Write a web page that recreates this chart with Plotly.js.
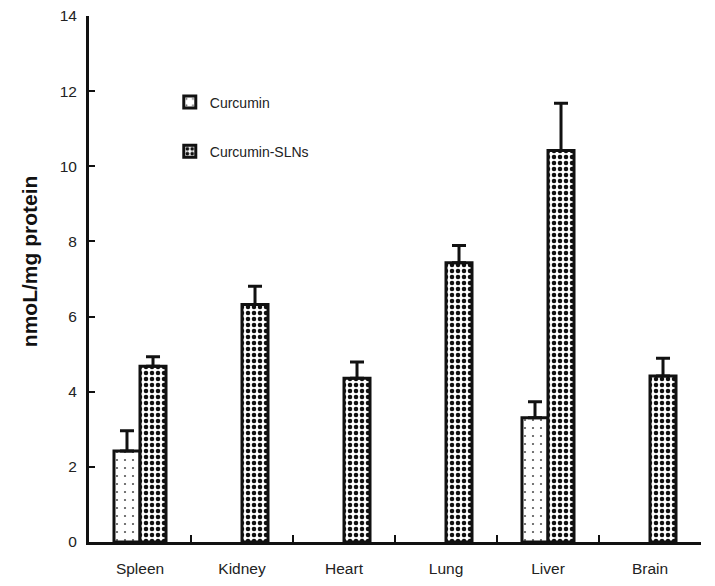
<!DOCTYPE html>
<html>
<head>
<meta charset="utf-8">
<script src="https://cdn.plot.ly/plotly-3.0.1.min.js"></script>
<style>html,body{margin:0;padding:0;background:#fff;}#chart{width:715px;height:586px;}</style>
</head>
<body>
<div id="chart"></div>
<script>
const organs = ["Spleen", "Kidney", "Heart", "Lung", "Liver", "Brain"];
const curcumin = [2.42, null, null, null, 3.31, null];
const curcuminErr = [0.54, null, null, null, 0.42, null];
const curcuminSLNs = [4.68, 6.32, 4.36, 7.43, 10.42, 4.42];
const curcuminSLNsErr = [0.25, 0.49, 0.43, 0.46, 1.26, 0.47];
const yTicks = [0, 2, 4, 6, 8, 10, 12, 14];
const yTitle = "nmoL/mg protein";

const font = "Liberation Sans, Arial, sans-serif";

const traces = [
  {
    type: "bar", name: "Curcumin", x: organs, y: curcumin,
    legendgroup: "a",
    marker: {
      color: "#ffffff",
      line: {color: "#111", width: 3},
      pattern: {shape: ".", fgcolor: "#555", bgcolor: "#fff", size: 8, solidity: 0.06}
    },
    error_y: {type: "data", symmetric: false, array: curcuminErr, arrayminus: curcumin.map(v => 0),
              color: "#111", thickness: 3, width: 7}
  },
  {
    type: "bar", name: "Curcumin-SLNs", x: organs, y: curcuminSLNs,
    legendgroup: "b",
    marker: {
      color: "#ffffff",
      line: {color: "#111", width: 3},
      pattern: {shape: ".", fgcolor: "#111", bgcolor: "#fff", size: 6, solidity: 0.45}
    },
    error_y: {type: "data", symmetric: false, array: curcuminSLNsErr, arrayminus: curcuminSLNs.map(v => 0),
              color: "#111", thickness: 3, width: 7}
  }
];

const layout = {
  width: 715, height: 586,
  margin: {l: 89, r: 14, t: 16, b: 44},
  paper_bgcolor: "#fff", plot_bgcolor: "#fff",
  barmode: "group", bargap: 0.49, bargroupgap: 0,
  font: {family: font, color: "#222", size: 15},
  showlegend: true,
  legend: {
    x: 0.132, y: 0.866, xanchor: "left", yanchor: "top",
    traceorder: "grouped", tracegroupgap: 28,
    font: {family: font, size: 14, color: "#222"},
    bgcolor: "rgba(0,0,0,0)"
  },
  xaxis: {
    type: "category", range: [-0.5, 5.5],
    showline: true, linecolor: "#111", linewidth: 3,
    ticks: "inside", tickson: "boundaries", ticklen: 7, tickwidth: 2, tickcolor: "#111",
    ticklabelstandoff: 10,
    showgrid: false, zeroline: false,
    tickfont: {family: font, size: 15.5, color: "#222"}
  },
  yaxis: {
    range: [0, 14], tickvals: yTicks, ticktext: yTicks.map(String),
    showline: true, linecolor: "#111", linewidth: 3,
    ticks: "inside", ticklen: 6, tickwidth: 2, tickcolor: "#111",
    ticklabelstandoff: 6,
    showgrid: false, zeroline: false,
    tickfont: {family: font, size: 15.5, color: "#222"}
  },
  annotations: [{
    text: "<b>" + yTitle + "</b>", textangle: -90,
    xref: "paper", yref: "paper", x: -0.098, y: 0.534,
    xanchor: "center", yanchor: "middle", showarrow: false,
    font: {family: font, size: 21, color: "#111"}
  }]
};

Plotly.newPlot("chart", traces, layout, {displayModeBar: false, staticPlot: true});
</script>
</body>
</html>
